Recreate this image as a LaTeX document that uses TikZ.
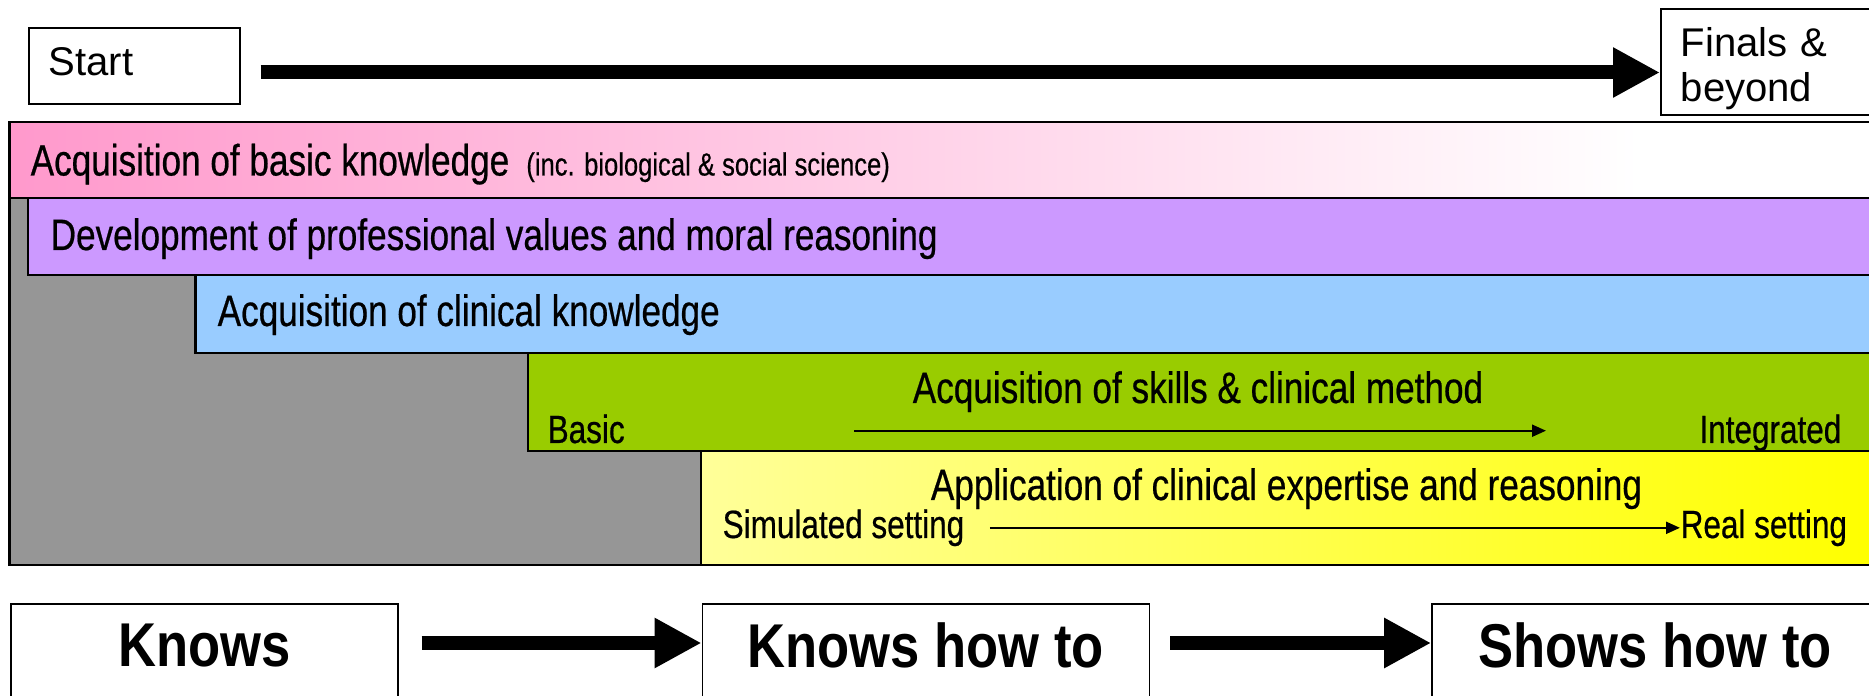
\documentclass[tikz,border=0pt]{standalone}
\usepackage{fontspec}
\setmainfont{Liberation Sans}
\newfontfamily\narrowfamily[FakeStretch=0.80, FakeBold=0.5]{Liberation Sans}
\newfontfamily\stagefamily[FakeStretch=0.85]{Liberation Sans}
\usepackage{tikz}
\usetikzlibrary{positioning, arrows.meta}

\definecolor{basicpink}{HTML}{FF99CC}
\definecolor{valuelilac}{HTML}{CC99FF}
\definecolor{clinblue}{HTML}{99CCFF}
\definecolor{skillgreen}{HTML}{99CC00}
\definecolor{applypale}{HTML}{FFFF99}
\definecolor{applyyellow}{HTML}{FFFF00}
\definecolor{stepgray}{HTML}{969696}

\newcommand{\bandtitlefont}{\narrowfamily\fontsize{12.5}{14}\selectfont}
\newcommand{\bandnotefont}{\narrowfamily\fontsize{9.1}{11}\selectfont}
\newcommand{\bandendfont}{\narrowfamily\fontsize{11.2}{13}\selectfont}
\newcommand{\timefont}{\fontsize{11.4}{12.8}\selectfont}
\newcommand{\stagefont}{\stagefamily\bfseries\fontsize{17.6}{20}\selectfont}

\tikzset{
  band/.style={draw=black, line width=0.8pt},
  bandtext/.style={inner sep=0pt, anchor=base west, font=\bandtitlefont},
  endtext/.style={inner sep=0pt, anchor=base west, font=\bandendfont},
  timebox/.style={draw=black, line width=0.45pt, fill=white, anchor=north west,
    inner xsep=0.2cm, align=left, font=\timefont},
  stagebox/.style={draw=black, line width=0.45pt, anchor=north west,
    minimum height=1.2cm, text depth=0.38cm, font=\stagefont},
  bigarrow/.style={line width=0.14cm, -{Triangle[length=0.47cm, width=0.47cm]}},
  thinarrow/.style={line width=0.6pt, -{Triangle[length=1.4mm, width=1.2mm]}},
}

\begin{document}
\begin{tikzpicture}
  \useasboundingbox (0,0) rectangle (18.69,-6.96);

  % Time line
  \node[timebox, minimum width=2.11cm, minimum height=0.76cm, text width=1.71cm,
    text depth=0.08cm] (start) at (0.28,-0.27) {Start};
  \node[timebox, minimum width=2.6cm, minimum height=1.06cm, text width=2.2cm,
    inner xsep=0.17cm, inner ysep=0pt] (finals) at (16.60,-0.08) {\rule{0pt}{0.43cm}Finals \&\\beyond};
  \coordinate (timerow) at (0,-0.725);
  \draw[bigarrow] ([xshift=0.2cm]start.east |- timerow) -- (finals.west |- timerow);

  % Grey steps behind the bands
  \draw[band, fill=stepgray] (0.095,-1.22) rectangle (7.21,-5.65);

  % Bands
  \shade[left color=basicpink, right color=white] (0.095,-1.22) rectangle (16.4,-1.98);
  \draw[band] (0.095,-1.22) rectangle (19.2,-1.98);
  \draw[band, fill=valuelilac] (0.28,-1.98) rectangle (19.2,-2.75);
  \draw[band, fill=clinblue] (1.955,-2.75) rectangle (19.2,-3.53);
  \draw[band, fill=skillgreen] (5.28,-3.53) rectangle (19.2,-4.51);
  \shade[left color=applypale, right color=applyyellow] (7.01,-4.51) rectangle (18.69,-5.65);
  \draw[band] (7.01,-4.51) rectangle (19.2,-5.65);

  % Band titles
  \node[bandtext] (basics) at (0.30,-1.755) {Acquisition of basic knowledge\hspace{0.17cm}{\bandnotefont(inc. biological \& social science)}};
  \node[bandtext] (values) at (0.50,-2.50) {Development of professional values and moral reasoning};
  \node[bandtext] (clinical) at (2.17,-3.26) {Acquisition of clinical knowledge};
  \node[bandtext, anchor=base] (skills) at (11.98,-4.03) {Acquisition of skills \& clinical method};
  \node[bandtext, anchor=base] (apply) at (12.865,-5.00) {Application of clinical expertise and reasoning};

  % Scales inside the last two bands
  \node[endtext] (basic) at (5.47,-4.43) {Basic};
  \node[endtext, anchor=base east] (integrated) at (18.42,-4.43) {Integrated};
  \coordinate (skillfrom) at (8.54,-4.307);
  \coordinate (skillto) at (15.46,-4.307);
  \draw[thinarrow] (skillfrom) -- (skillto);
  \node[endtext] (simulated) at (7.22,-5.38) {Simulated setting};
  \node[endtext] (real) at (16.80,-5.38) {Real setting};
  \draw[thinarrow] ([xshift=0.25cm]simulated.east) -- (real.west);

  % Stages
  \node[stagebox, minimum width=3.87cm] (knows) at (0.10,-6.03) {Knows};
  \node[stagebox, minimum width=4.47cm, right=3.03cm of knows.north east, anchor=north west] (knowshow) {Knows how to};
  \node[stagebox, minimum width=4.46cm, right=2.81cm of knowshow.north east, anchor=north west] (showshow) {Shows how to};
  \coordinate (stagerow) at (0,-6.43);
  \draw[bigarrow] ([xshift=0.23cm]knows.east |- stagerow) -- (knowshow.west |- stagerow);
  \draw[bigarrow] ([xshift=0.2cm]knowshow.east |- stagerow) -- (showshow.west |- stagerow);
\end{tikzpicture}
\end{document}
